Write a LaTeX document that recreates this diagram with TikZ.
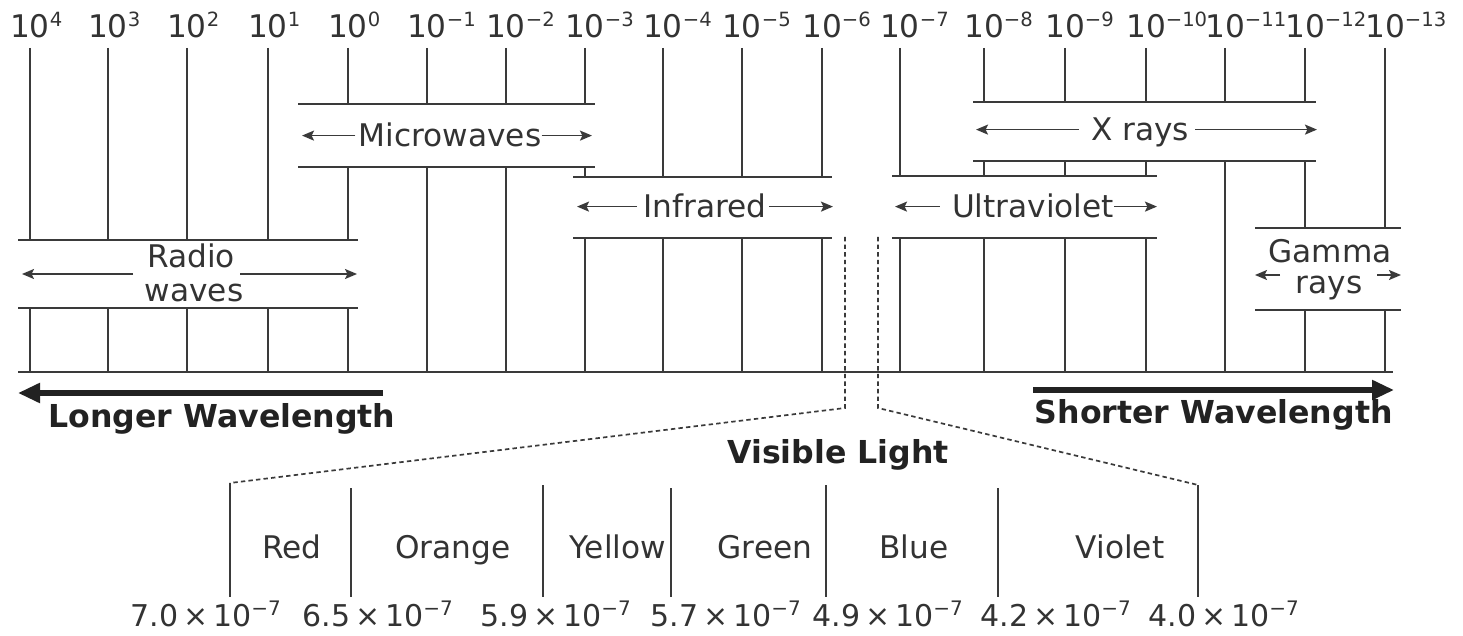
\documentclass[tikz,border=0pt]{standalone}
\usepackage{fontspec}
\setmainfont{DejaVu Sans}
\usetikzlibrary{arrows.meta}
\definecolor{ln}{HTML}{3A3A3A}
\definecolor{tx}{HTML}{333333}
\definecolor{bk}{HTML}{222222}
\newcommand\supx[1]{\raisebox{5.6pt}{\fontsize{9.8}{10}\selectfont #1}}
\newcommand\supb[1]{\raisebox{5.2pt}{\fontsize{10}{10}\selectfont #1}}
\begin{document}
\begin{tikzpicture}[x=0.5pt,y=-0.5pt,
  tk/.style={draw=ln,line width=1.05pt},
  band/.style={draw=ln,line width=1.15pt},
  lbl/.style={font=\fontsize{15.6}{17}\selectfont,text=tx,inner sep=0pt,text height=11.4pt,text depth=0pt},
  bold/.style={font=\fontsize{15.8}{17}\selectfont\bfseries,text=bk,inner sep=0pt},
  num/.style={font=\fontsize{15}{17}\selectfont,text=tx,inner sep=0pt},
  arr/.style={draw=ln,line width=0.85pt,-{Stealth[length=6pt,width=5pt,inset=1.2pt]}},
  big/.style={draw=bk,line width=2.6pt,-{Triangle[length=11pt,width=9.5pt]}},
  dot/.style={draw=ln,line width=0.85pt,dash pattern=on 2.2pt off 1.6pt}]
\useasboundingbox (0,0) rectangle (1463,636);

% top exponent labels
\foreach \x/\e [count=\i] in {30/4,108/3,187/2,268/1,348/0,427/−1,506/−2,585/−3,663/−4,742/−5,822/−6,900/−7,984/−8,1065/−9,1146/−10,1225/−11,1305/−12,1385/−13}
  \node[font=\fontsize{15.6}{17}\selectfont,text=tx,inner sep=0pt,anchor=base] (top\i) at (\x,38) {10\rlap{\supx{\e}}};

% tick segments
\foreach \x/\a/\b in {30/48/240,30/308/372,108/48/240,108/308/372,187/48/240,187/308/372,268/48/240,268/308/372,
  348/48/104,348/167/240,348/308/372,
  427/48/104,427/167/372,506/48/104,506/167/372,
  585/48/104,585/167/177,585/238/372,
  663/48/177,663/238/372,742/48/177,742/238/372,822/48/177,822/238/372,
  900/48/176,900/238/372,
  984/48/102,984/161/176,984/238/372,1065/48/102,1065/161/176,1065/238/372,1146/48/102,1146/161/176,1146/238/372,
  1225/48/102,1225/161/372,
  1305/48/102,1305/161/228,1305/310/372,
  1385/48/228,1385/310/372}
  \draw[tk] (\x,\a) -- (\x,\b);

% band borders
\foreach \l/\r/\y in {298/595/104,298/595/167,573/832/177,573/832/238,892/1157/176,892/1157/238,
  973/1316/102,973/1316/161,18/358/240,18/358/308,1255/1401/228,1255/1401/310}
  \draw[band] (\l,\y) -- (\r,\y);
% base line
\draw[band] (18,372) -- (1393,372);

% band labels with arrows
\node[lbl,anchor=base] (mw) at (450,147) {Microwaves};
\coordinate (mwL) at (302,137); \coordinate (mwR) at (592,137);
\draw[arr] ([xshift=-1.5pt]mw.west) -- (mw.west -| mwL);
\draw[arr] (mw.east) -- (mw.east -| mwR);

\node[lbl,anchor=base] (ir) at (705,218) {Infrared};
\coordinate (irL) at (577,207); \coordinate (irR) at (833,207);
\draw[arr] ([xshift=-3pt]ir.west) -- (ir.west -| irL);
\draw[arr] ([xshift=1pt]ir.east) -- (ir.east -| irR);

\node[lbl,anchor=base] (uv) at (1033,218) {Ultraviolet};
\coordinate (uvL) at (895,207); \coordinate (uvR) at (1157,207);
\draw[arr] ([xshift=-6pt]uv.west) -- (uv.west -| uvL);
\draw[arr] (uv.east) -- (uv.east -| uvR);

\node[lbl,anchor=base] (xr) at (1140,141) {X rays};
\coordinate (xrL) at (976,130); \coordinate (xrR) at (1317,130);
\draw[arr] ([xshift=-6pt]xr.west) -- (xr.west -| xrL);
\draw[arr] ([xshift=3pt]xr.east) -- (xr.east -| xrR);

\node[lbl,anchor=base] (rw1) at (191,268) {Radio};
\node[lbl,anchor=base] (rw2) at (194,302) {waves};
\coordinate (rwA) at (133,274); \coordinate (rwB) at (22,274);
\coordinate (rwC) at (240,274); \coordinate (rwD) at (357,274);
\draw[arr] (rwA) -- (rwB);
\draw[arr] (rwC) -- (rwD);

\node[lbl,anchor=base] (gr1) at (1330,263) {Gamma};
\node[lbl,anchor=base] (gr2) at (1329,294) {rays};
\coordinate (grA) at (1280,275); \coordinate (grB) at (1255,275);
\coordinate (grC) at (1377,275); \coordinate (grD) at (1401,275);
\draw[arr] (grA) -- (grB);
\draw[arr] (grC) -- (grD);

% long/short wavelength
\node[bold,anchor=base west] (lw) at (48,428) {Longer Wavelength};
\node[bold,anchor=base east] (sw) at (1393,423) {Shorter Wavelength};
\coordinate (lwA) at (383,393); \coordinate (lwB) at (18,393);
\coordinate (swA) at (1033,390); \coordinate (swB) at (1394,390);
\draw[big] (lwA) -- (lwB);
\draw[big] (swA) -- (swB);

% visible light zoom
\draw[dot] (845,237) -- (845,408) -- (230,483);
\draw[dot] (878,237) -- (878,408) -- (1198,485);
\node[bold,anchor=base] (vl) at (838,464) {Visible Light};

\foreach \x/\a in {230/483,351/488,543/485,671/488,826/485,998/488,1198/485}
  \draw[tk] (\x,\a) -- (\x,597);

\foreach \x/\t [count=\i] in {292/Red,453/Orange,618/Yellow,765/Green,914/Blue,1120/Violet}
  \node[lbl,anchor=base] (c\i) at (\x,558) {\t};

\foreach \x/\v [count=\i] in {130/7.0,302/6.5,480/5.9,650/5.7,812/4.9,980/4.2,1148/4.0}
  \node[num,anchor=base west] (n\i) at (\x,626) {\v\,×\,10\supb{−7}};
\end{tikzpicture}
\end{document}
